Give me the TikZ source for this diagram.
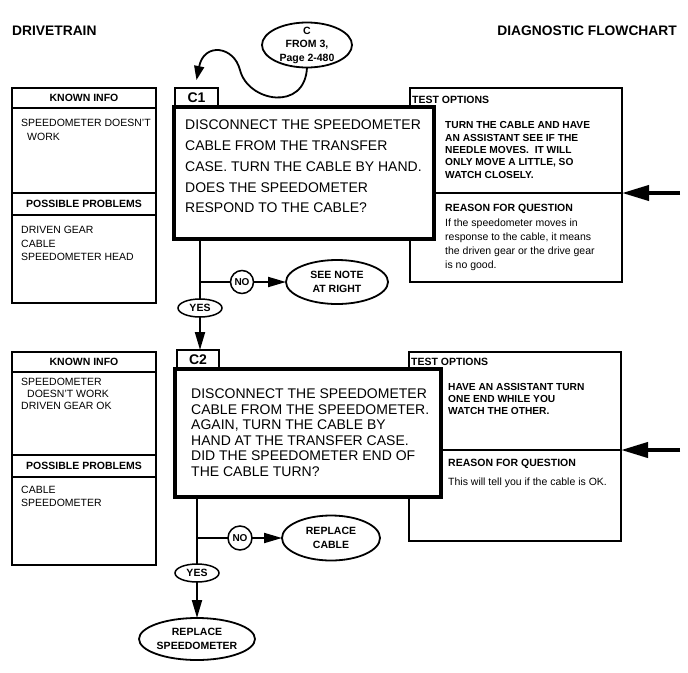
\documentclass[tikz,border=0pt]{standalone}
\usepackage{fontspec}
\setmainfont{Liberation Sans}
\usetikzlibrary{positioning,shapes.geometric,arrows.meta}

\begin{document}
\begin{tikzpicture}[x=1pt,y=-1pt,
  box/.style={draw,line width=1.2pt,inner sep=0pt,outer sep=0pt,anchor=north west},
  hdr/.style={inner sep=0pt,font=\bfseries\fontsize{10.5}{13.5}\selectfont},
  txt/.style={inner sep=0pt,align=left,font=\fontsize{10.5}{13.5}\selectfont},
  opt/.style={inner sep=0pt,align=left,font=\bfseries\fontsize{10.2}{12.3}\selectfont},
  quest/.style={box,line width=4pt,fill=white},
  qtxt/.style={inner sep=0pt,align=left},
  tabbox/.style={box,minimum height=19pt,font=\bfseries\fontsize{14}{16}\selectfont},
  oval/.style={draw,ellipse,line width=1.8pt,inner sep=0pt,outer sep=0pt,align=center,font=\bfseries\fontsize{10.5}{13.5}\selectfont},
  flow/.style={line width=2pt},
  flowarrow/.style={flow,-{Triangle[length=18pt,width=10pt]}},
  sidearrow/.style={line width=4pt,-{Triangle[length=27pt,width=15pt]}}]
\useasboundingbox (0,0) rectangle (688,672);

\node[hdr,anchor=west,font=\bfseries\fontsize{13.8}{16}\selectfont] (ttl) at (12,31) {DRIVETRAIN};
\node[hdr,anchor=east,font=\bfseries\fontsize{13.8}{16}\selectfont] (ttr) at (677,31) {DIAGNOSTIC FLOWCHART};

\node[oval,minimum width=90pt,minimum height=45pt,inner ysep=-3pt] (cin) at (307,45) {C\\FROM 3,\\Page 2-480};

\node[box,hdr,minimum width=144pt,minimum height=20pt] (kh1) at (12,88) {KNOWN INFO};
\node[box,minimum width=144pt,minimum height=85pt] (kb1) at (kh1.south west) {};
\node[box,hdr,minimum width=144pt,minimum height=22pt] (ph1) at (kb1.south west) {POSSIBLE PROBLEMS};
\node[box,minimum width=144pt,minimum height=88pt] (pb1) at (ph1.south west) {};
\node[txt,below right=11pt and 9pt of kb1.north west] (kt1) {SPEEDOMETER DOESN'T\\\hspace*{6pt}WORK};
\node[txt,below right=11pt and 9pt of pb1.north west] (pt1) {DRIVEN GEAR\\CABLE\\SPEEDOMETER HEAD};

\node[box,line width=1.5pt,minimum width=212pt,minimum height=105pt] (tst1) at (410,88) {};
\node[box,line width=1.5pt,minimum width=212pt,minimum height=89pt] (rsn1) at (tst1.south west) {};
\node[hdr,below right=8pt and 2pt of tst1.north west] (to1) {TEST OPTIONS};
\node[opt,below right=33.5pt and 35pt of tst1.north west] (tt1) {TURN THE CABLE AND HAVE\\AN ASSISTANT SEE IF THE\\NEEDLE MOVES.\ \ IT WILL\\ONLY MOVE A LITTLE, SO\\WATCH CLOSELY.};
\node[hdr,below right=11pt and 35pt of rsn1.north west] (rq1) {REASON FOR QUESTION};
\node[txt,font=\fontsize{10.5}{14}\selectfont,below right=26pt and 35pt of rsn1.north west] (rt1) {If the speedometer moves in\\response to the cable, it means\\the driven gear or the drive gear\\is no good.};

\node[quest,minimum width=260pt,minimum height=132pt] (q1) at (174,107) {};
\node[tabbox,minimum width=43pt] (c1tab) at (175,88) {C1};
\node[qtxt,font=\fontsize{14}{20.7}\selectfont,below right=13pt and 11pt of q1.north west] (qt1) {DISCONNECT THE SPEEDOMETER\\CABLE FROM THE TRANSFER\\CASE. TURN THE CABLE BY HAND.\\DOES THE SPEEDOMETER\\RESPOND TO THE CABLE?};

\draw[line width=1.8pt,-{Triangle[length=14pt,width=10pt]}] (cin.south) .. controls (305,112) and (248,102) .. (240,70) .. controls (234,46) and (204,42) .. ([yshift=8pt]c1tab.north);

\coordinate (s1) at (680,193);
\draw[sidearrow] (s1) -- (tst1.south east);

\node[oval,circle,minimum size=23pt,line width=1.5pt,font=\bfseries\fontsize{10}{12}\selectfont] (no1) at (242,282) {NO};
\node[oval,minimum width=102pt,minimum height=44pt] (see) at (337,282) {SEE NOTE\\AT RIGHT};
\node[oval,minimum width=44pt,minimum height=18pt,line width=1.5pt] (yes1) at (200,308) {YES};
\draw[flow] (yes1 |- q1.south) -- (yes1.north);
\draw[flow] (yes1 |- no1) -- (no1.west);
\draw[flowarrow] (no1.east) -- (see.west);

\node[box,hdr,minimum width=144pt,minimum height=20pt] (kh2) at (12,352) {KNOWN INFO};
\node[box,minimum width=144pt,minimum height=83pt] (kb2) at (kh2.south west) {};
\node[box,hdr,minimum width=144pt,minimum height=22pt] (ph2) at (kb2.south west) {POSSIBLE PROBLEMS};
\node[box,minimum width=144pt,minimum height=88pt] (pb2) at (ph2.south west) {};
\node[txt,font=\fontsize{10.5}{12}\selectfont,below right=5.5pt and 9pt of kb2.north west] (kt2) {SPEEDOMETER\\\hspace*{6pt}DOESN'T WORK\\DRIVEN GEAR OK};
\node[txt,font=\fontsize{10.5}{12.5}\selectfont,below right=9pt and 9pt of pb2.north west] (pt2) {CABLE\\SPEEDOMETER};

\node[box,line width=1.5pt,minimum width=212pt,minimum height=98pt] (tst2) at (409,352) {};
\node[box,line width=1.5pt,minimum width=212pt,minimum height=91pt] (rsn2) at (tst2.south west) {};
\node[hdr,below right=6pt and 2pt of tst2.north west] (to2) {TEST OPTIONS};
\node[opt,font=\bfseries\fontsize{10.2}{12}\selectfont,below right=31pt and 39pt of tst2.north west] (tt2) {HAVE AN ASSISTANT TURN\\ONE END WHILE YOU\\WATCH THE OTHER.};
\node[hdr,below right=9pt and 39pt of rsn2.north west] (rq2) {REASON FOR QUESTION};
\node[txt,below right=28pt and 39pt of rsn2.north west] (rt2) {This will tell you if the cable is OK.};

\node[quest,minimum width=266pt,minimum height=128pt] (q2) at (175,369) {};
\node[tabbox,minimum width=42pt] (c2tab) at (177,350) {C2};
\node[qtxt,font=\fontsize{14}{15.5}\selectfont,below right=20pt and 16pt of q2.north west] (qt2) {DISCONNECT THE SPEEDOMETER\\CABLE FROM THE SPEEDOMETER.\\AGAIN, TURN THE CABLE BY\\HAND AT THE TRANSFER CASE.\\DID THE SPEEDOMETER END OF\\THE CABLE TURN?};

\draw[flowarrow] (yes1.south) -- (yes1 |- c2tab.north);

\coordinate (s2) at (680,450);
\draw[sidearrow] (s2) -- (tst2.south east);

\node[oval,circle,minimum size=24pt,line width=1.5pt,font=\bfseries\fontsize{10}{12}\selectfont] (no2) at (240,538) {NO};
\node[oval,minimum width=98pt,minimum height=45pt] (rcab) at (331,538) {REPLACE\\CABLE};
\node[oval,minimum width=44pt,minimum height=18pt,line width=1.5pt] (yes2) at (197,573) {YES};
\node[oval,minimum width=116pt,minimum height=42pt] (rspd) at (197,639) {REPLACE\\SPEEDOMETER};
\draw[flow] (yes2 |- q2.south) -- (yes2.north);
\draw[flow] (yes2 |- no2) -- (no2.west);
\draw[flowarrow] (no2.east) -- (rcab.west);
\draw[flowarrow] (yes2.south) -- (rspd.north);
\end{tikzpicture}
\end{document}
